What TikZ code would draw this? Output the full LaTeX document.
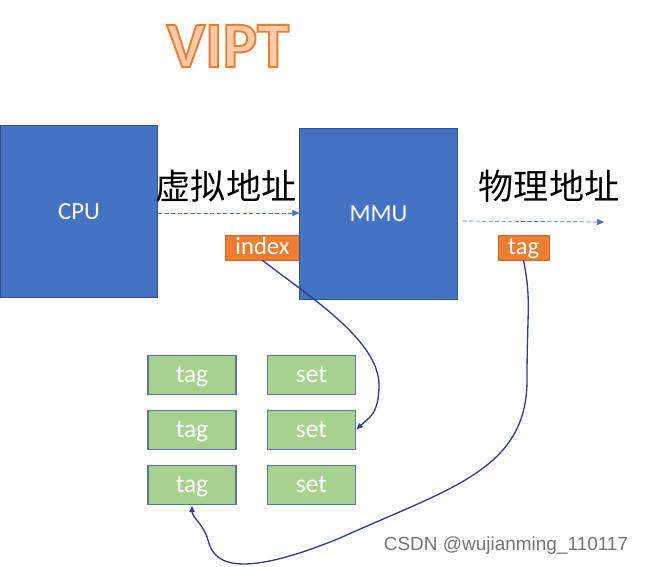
\documentclass[tikz,border=0pt]{standalone}
\usepackage{fontspec}
\setmainfont{Carlito}
\newfontfamily\cjkfont{Noto Sans CJK SC}
\newfontfamily\markfont{Liberation Sans}
\usetikzlibrary{arrows.meta,positioning}
\definecolor{box_blue}{HTML}{4472C4}
\definecolor{line_blue}{HTML}{2F528F}
\definecolor{pen_blue}{HTML}{2E3C8C}
\definecolor{tag_orange}{HTML}{ED7D31}
\definecolor{cell_green}{HTML}{A9D18E}
\definecolor{title_fill}{HTML}{F8CBAD}
\newcommand{\outlined}[1]{\special{pdf:literal direct 2 Tr 1.1 w 0.93 0.49 0.19 RG}#1\special{pdf:literal direct 0 Tr}}
\begin{document}
\begin{tikzpicture}[
        x=0.02cm, y=-0.02cm,
        every node/.style={inner sep=0pt, font=\fontsize{14}{16}\selectfont},
        blue_box/.style={draw=line_blue, fill=box_blue, text=white, minimum width=3.15cm, minimum height=3.43cm},
        orange_box/.style={draw=tag_orange!85!black, fill=tag_orange, text=white, minimum height=0.5cm,
            text height=8.5pt, text depth=0pt},
        green_box/.style={draw=line_blue!80, fill=cell_green, text=white, minimum width=1.76cm, minimum height=0.78cm,
            line width=0.8pt, font=\fontsize{14.5}{16}\selectfont, text height=9pt, text depth=0pt},
        addr_arrow/.style={draw=box_blue, dash pattern=on 2.5pt off 1.2pt, -{Triangle[length=4pt,width=3.5pt]}},
        pen_line/.style={draw=pen_blue, line width=0.75pt, -{Latex[length=4pt,width=3.5pt]}},
        addr_text/.style={font=\cjkfont\fontsize{20}{24}\selectfont}
        ]
    \useasboundingbox (0,0) rectangle (645,566);

    % title
    \node[text=title_fill, font=\bfseries\fontsize{37}{40}\selectfont] (title) at (228,46) {\outlined{VIPT}};

    % cpu and mmu
    \node[blue_box] (cpu) at (79,211.5) {CPU};
    \node[orange_box, minimum width=1.5cm] (index) at (262.5,247.5) {index};
    \node[blue_box] (mmu) at (378.5,214) {MMU};
    \node[orange_box, minimum width=1.02cm] (pa_tag) at (523.5,247.5) {tag};

    \node[addr_text] (va_text) at (226,186) {虚拟地址};
    \node[addr_text] (pa_text) at (549,186) {物理地址};

    \coordinate (pa_end) at (604,222);
    \draw[addr_arrow] ([yshift=-0.03cm]cpu.east) -- ([yshift=-0.03cm]cpu.east -| mmu.west);
    \draw[addr_arrow] ([shift={(5,7)}]mmu.east) -- (pa_end);

    % cache lines
    \foreach \i/\y in {1/375, 2/430, 3/485} {
        \node[green_box] (tag\i) at (192,\y) {tag};
        \node[green_box, right=0.6cm of tag\i] (set\i) {set};
    }

    % index picks the set, tag is compared
    \draw[pen_line] (index.south) .. controls +(45,35) and +(0,-45) .. (379,385)
        .. controls +(0,30) and +(12,-12) .. (set2.east);
    \draw[pen_line] (pa_tag.south) .. controls +(8,40) and +(0,-70) .. (527,380)
        .. controls +(0,90) and +(110,-50) .. (340,538)
        .. controls +(-110,45) and +(5,20) .. (208,540)
        .. controls +(-4,-15) and +(0,12) .. (tag3.south);

    \node[font=\markfont\fontsize{10.8}{13}\selectfont, text=black!55] (mark) at (506,546) {CSDN @wujianming\_110117};
\end{tikzpicture}
\end{document}
